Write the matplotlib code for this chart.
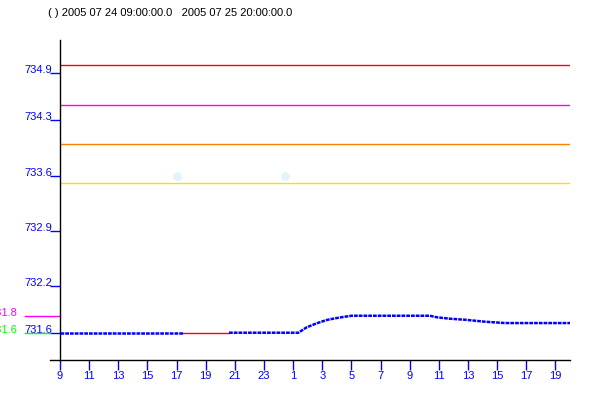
import matplotlib
matplotlib.use("Agg")
import matplotlib.pyplot as plt
import matplotlib.transforms as mtransforms

plt.rcParams['font.family'] = ['Liberation Sans', 'DejaVu Sans']

title = "( ) 2005 07 24 09:00:00.0   2005 07 25 20:00:00.0"

# hours counted from 00:00 on 2005-07-24
hours_a = [9.0, 17.46]
level_a = [731.60, 731.60]
hours_gap = [17.46, 20.6]
level_gap = [731.595, 731.595]
hours_b = [20.6, 25.36, 25.93, 26.62, 27.30, 27.87, 28.56, 29.02, 34.39,
           34.87, 35.77, 36.80, 38.17, 39.54, 44.0]
level_b = [731.60, 731.60, 731.669, 731.72, 731.762, 731.783, 731.804, 731.816, 731.816,
           731.796, 731.778, 731.765, 731.74, 731.723, 731.723]

# limit lines
limit_values = [735.0, 734.5, 734.0, 733.5]
limit_colors = ['#ff0000', '#ff00ff', '#ff8000', '#ffdd00']

# side markers left of the axis
side_values = [731.81, 731.6]
side_labels = ['731.8', '731.6']
side_colors = ['#ff00ff', '#00ff00']

# faint points
dot_hours = [17.03, 24.44]
dot_values = [733.6, 733.6]

yticks = [731.6, 732.2, 732.9, 733.6, 734.3, 734.9]
xticks = list(range(9, 44, 2))
xlabels = [str(h % 24) for h in xticks]

fig = plt.figure(figsize=(6, 4), dpi=100)
ax = fig.add_axes([0.1, 0.1, 0.85, 0.8])

for v, c in zip(limit_values, limit_colors):
    ax.axhline(v, color=c, lw=1.0)

ax.scatter(dot_hours, dot_values, s=40, color='#e0f4fd', zorder=2, linewidths=0)

ax.plot(hours_gap, level_gap, color='red', lw=1.0, zorder=3)
for hx, lv in [(hours_a, level_a), (hours_b, level_b)]:
    ax.plot(hx, lv, color='#0000ff', lw=1.8, dashes=(1.5, 0.4), zorder=4)

ax.set_xlim(9, 44)
ax.set_ylim(731.253, 735.324)

for s in ['top', 'right', 'bottom']:
    ax.spines[s].set_visible(False)
ax.spines['left'].set_color('black')
ax.spines['left'].set_linewidth(1.0)
ax.plot([-10 / 510, 1], [0, 0], transform=ax.transAxes, color='black', lw=1.0, clip_on=False)

ax.set_yticks(yticks)
ax.set_yticklabels([f"{v:.1f}" for v in yticks])
ax.tick_params(axis='y', length=7.2, width=1.0, color='#0000ff', labelcolor='#0000ff',
               labelsize=8, pad=-1.5)
for lab in ax.get_yticklabels():
    lab.set_verticalalignment('baseline')

ax.set_xticks(xticks)
ax.set_xticklabels(xlabels)
ax.tick_params(axis='x', length=7.2, width=1.0, color='#0000ff', labelcolor='#0000ff',
               labelsize=8, pad=1)

trans = mtransforms.blended_transform_factory(ax.transAxes, ax.transData)
for v, lab, c, x_end in zip(side_values, side_labels, side_colors, [0.0, -10 / 510]):
    ax.plot([-35 / 510, x_end], [v, v], transform=trans, color=c, lw=1.0, clip_on=False)
    ax.text(-43 / 510, v, lab, transform=trans, color=c, fontsize=8,
            ha='right', va='baseline', clip_on=False)

fig.text(48 / 600, 1 - 16 / 400, title, fontsize=8, color='black', va='baseline', ha='left')

fig.savefig("out.png", dpi=100)
